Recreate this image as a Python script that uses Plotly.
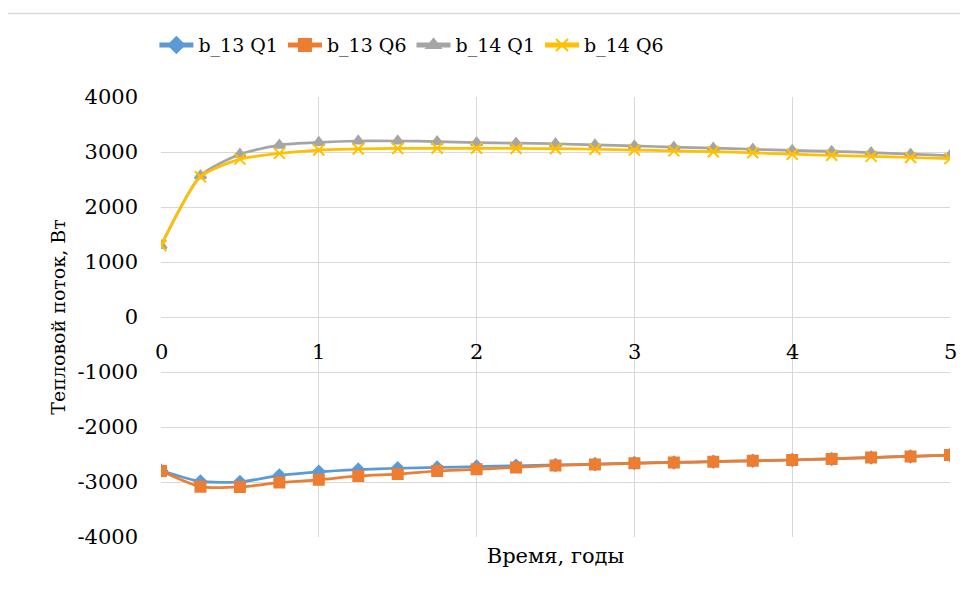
import plotly.graph_objects as go

years = [0, 0.25, 0.5, 0.75, 1, 1.25, 1.5, 1.75, 2, 2.25, 2.5, 2.75, 3, 3.25, 3.5, 3.75, 4, 4.25, 4.5, 4.75, 5]
b13_q1 = [-2790, -2990, -3000, -2880, -2815, -2775, -2750, -2735, -2720, -2705, -2690, -2675, -2655, -2645, -2630, -2615, -2600, -2580, -2555, -2535, -2510]
b13_q6 = [-2800, -3085, -3090, -3010, -2960, -2890, -2855, -2800, -2770, -2735, -2700, -2680, -2660, -2645, -2630, -2615, -2600, -2580, -2555, -2535, -2510]
b14_q1 = [1300, 2570, 2960, 3125, 3175, 3200, 3200, 3190, 3170, 3160, 3150, 3130, 3110, 3090, 3070, 3050, 3030, 3010, 2990, 2960, 2935]
b14_q6 = [1300, 2550, 2870, 2975, 3035, 3055, 3065, 3068, 3067, 3065, 3060, 3050, 3035, 3020, 3005, 2985, 2960, 2940, 2920, 2900, 2880]
series_names = ["b_13 Q1", "b_13 Q6", "b_14 Q1", "b_14 Q6"]
x_ticks = [0, 1, 2, 3, 4, 5]
y_ticks = [-4000, -3000, -2000, -1000, 0, 1000, 2000, 3000, 4000]
y_tick_text = ["-4000", "-3000", "-2000", "-1000", "0", "1000", "2000", "3000", "4000"]

colors = ["#5B9BD5", "#ED7D31", "#A5A5A5", "#FFC000"]
symbols = ["diamond", "square", "triangle-up", "x-thin-open"]
sizes = [9, 10, 10, 11]

font_family = "DejaVu Serif"

fig = go.Figure()
for name, vals, c, s, sz in zip(series_names, [b13_q1, b13_q6, b14_q1, b14_q6], colors, symbols, sizes):
    fig.add_trace(go.Scatter(
        x=years, y=vals, name=name, mode="lines+markers",
        line=dict(color=c, width=2.75, shape="spline", smoothing=0.6),
        marker=dict(symbol=s, size=sz, color=c, line=dict(color=c, width=2)),
    ))

for t in x_ticks:
    fig.add_annotation(x=t, y=0, xref="x", yref="y", text=str(t), showarrow=False,
                       yshift=-35, font=dict(size=21, color="#000000", family=font_family))

fig.add_shape(type="rect", xref="paper", yref="paper", x0=-0.25, x1=1.05, y0=-0.2, y1=1.19,
              line=dict(color="#D9D9D9", width=1.5), fillcolor="rgba(0,0,0,0)")

fig.update_layout(
    width=960, height=586,
    margin=dict(l=153, r=18, t=89, b=57, autoexpand=False),
    paper_bgcolor="white", plot_bgcolor="white",
    font=dict(family=font_family, color="#000000"),
    showlegend=True,
    legend=dict(orientation="h", x=0.318, xanchor="center", y=1.118, yanchor="middle",
                font=dict(size=19, family=font_family), itemwidth=34, tracegroupgap=0,
                itemsizing="constant"),
    xaxis=dict(range=[0, 5], tickvals=x_ticks, showticklabels=False, showgrid=True,
               gridcolor="#D9D9D9", gridwidth=1, zeroline=False, showline=False, automargin=False,
               title=dict(text="Время, годы", font=dict(size=21, family=font_family), standoff=11)),
    yaxis=dict(range=[-4000, 4000], tickvals=y_ticks, ticktext=y_tick_text, showgrid=True,
               gridcolor="#D9D9D9", automargin=False,
               gridwidth=1, zeroline=False, showline=False, ticklabelstandoff=22,
               tickfont=dict(size=21, family=font_family),
               title=dict(text="Тепловой поток, Вт", font=dict(size=19, family=font_family), standoff=6)),
)

fig.write_html("out.html")
